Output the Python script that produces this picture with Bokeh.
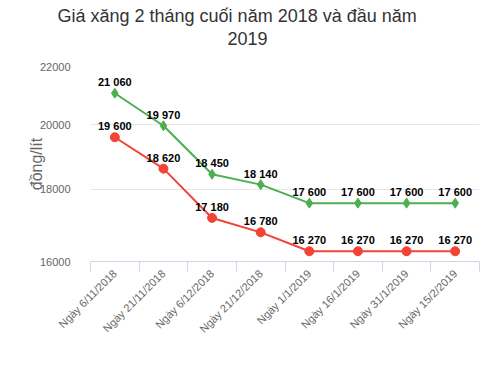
import math
from bokeh.plotting import figure
from bokeh.models import (FixedTicker, ColumnDataSource, LabelSet, Legend, Title,
                          LegendItem, PrintfTickFormatter)
from bokeh.core.properties import value
from bokeh.embed import file_html
from bokeh.resources import INLINE

categories = ["Ngày 6/11/2018", "Ngày 21/11/2018", "Ngày 6/12/2018", "Ngày 21/12/2018",
              "Ngày 1/1/2019", "Ngày 16/1/2019", "Ngày 31/1/2019", "Ngày 15/2/2019"]
e5_ron92 = [19600, 18620, 17180, 16780, 16270, 16270, 16270, 16270]
ron95 = [21060, 19970, 18450, 18140, 17600, 17600, 17600, 17600]
y_ticks = [16000, 18000, 20000, 22000]
series_names = ["Xăng E5 RON 92", "Xăng RON 95"]
title_lines = ["Giá xăng 2 tháng cuối năm 2018 và đầu năm", "2019"]
y_title = "đồng/lít"

FONT = "Liberation Sans"
RED = "#f44336"
GREEN = "#4caf50"

n = len(categories)
xs = [i + 0.5 for i in range(n)]

def fmt(v):
    return f"{v:,}".replace(",", " ")

p = figure(frame_width=389, frame_height=195, y_axis_type="log", x_range=(0, n),
           y_range=(y_ticks[0], y_ticks[-1]), output_backend="svg",
           toolbar_location=None, min_border_left=90, min_border_right=5,
           min_border_top=66, min_border_bottom=0)
p.outline_line_color = None
p.background_fill_color = "white"

# y axis
yt = FixedTicker(ticks=y_ticks)
p.yaxis.ticker = yt
p.ygrid.ticker = yt
p.yaxis.formatter = PrintfTickFormatter(format="%d")
p.yaxis.axis_line_color = None
p.yaxis.major_tick_line_color = None
p.yaxis.minor_tick_line_color = None
p.yaxis.major_label_text_font = FONT
p.yaxis.major_label_text_font_size = "11px"
p.yaxis.major_label_text_color = "#666666"
p.yaxis.major_label_standoff = 14
p.yaxis.axis_label = y_title
p.yaxis.axis_label_text_font = FONT
p.yaxis.axis_label_text_font_size = "16px"
p.yaxis.axis_label_text_font_style = "normal"
p.yaxis.axis_label_text_color = "#666666"
p.yaxis.axis_label_standoff = -8
p.ygrid.grid_line_color = "#e6e6e6"
p.xgrid.grid_line_color = None

# x axis
xt = FixedTicker(ticks=xs, minor_ticks=list(range(n + 1)))
p.xaxis.ticker = xt
p.xaxis.major_label_overrides = {x: c for x, c in zip(xs, categories)}
p.xaxis.major_label_orientation = math.pi / 4
p.xaxis.major_tick_out = 0
p.xaxis.major_tick_in = 0
p.xaxis.minor_tick_out = 10
p.xaxis.minor_tick_in = 0
p.xaxis.minor_tick_line_color = "#ccd6eb"
p.xaxis.axis_line_color = "#ccd6eb"
p.xaxis.major_label_text_font = FONT
p.xaxis.major_label_text_font_size = "11px"
p.xaxis.major_label_text_color = "#666666"
p.xaxis.major_label_standoff = 0

src = ColumnDataSource(dict(x=xs, e5=e5_ron92, r95=ron95,
                            e5t=[fmt(v) for v in e5_ron92],
                            r95t=[fmt(v) for v in ron95]))

l1 = p.line("x", "e5", source=src, line_color=RED, line_width=2)
m1 = p.scatter("x", "e5", source=src, marker="circle", size=9, fill_color=RED, line_color=RED)
l2 = p.line("x", "r95", source=src, line_color=GREEN, line_width=2)
m2 = p.scatter("x", "r95", source=src, marker="diamond", size=10, fill_color=GREEN, line_color=GREEN)

for col, tcol in (("e5", "e5t"), ("r95", "r95t")):
    p.add_layout(LabelSet(x="x", y=col, text=tcol, source=src, text_align="center",
                          text_baseline="bottom", y_offset=5, text_font=value(FONT),
                          text_font_size="11px", text_font_style="bold",
                          text_color="#000000"))

legend = Legend(items=[LegendItem(label=series_names[0], renderers=[l1, m1]),
                       LegendItem(label=series_names[1], renderers=[l2, m2])],
                orientation="horizontal", location=(43, 13),
                label_text_font=FONT, label_text_font_size="12px",
                label_text_font_style="bold", label_text_color="#333333",
                border_line_color=None, background_fill_alpha=0,
                glyph_width=18, glyph_height=12, label_height=12,
                spacing=13, padding=0, margin=0, label_standoff=5)
p.add_layout(legend, "below")

# Title rows: first added sits nearest the frame
p.add_layout(Title(text="\u00a0", text_font_size="1px", standoff=15,
                   text_color="white"), "above")
p.add_layout(Title(text=title_lines[1], align="left", offset=137, text_font=FONT,
                   text_font_size="18px", text_font_style="normal",
                   text_color="#333333", standoff=8), "above")
p.add_layout(Title(text=title_lines[0], align="left", offset=-33, text_font=FONT,
                   text_font_size="18px", text_font_style="normal",
                   text_color="#333333", standoff=0), "above")

open("out.html", "w").write(file_html(p, INLINE))
